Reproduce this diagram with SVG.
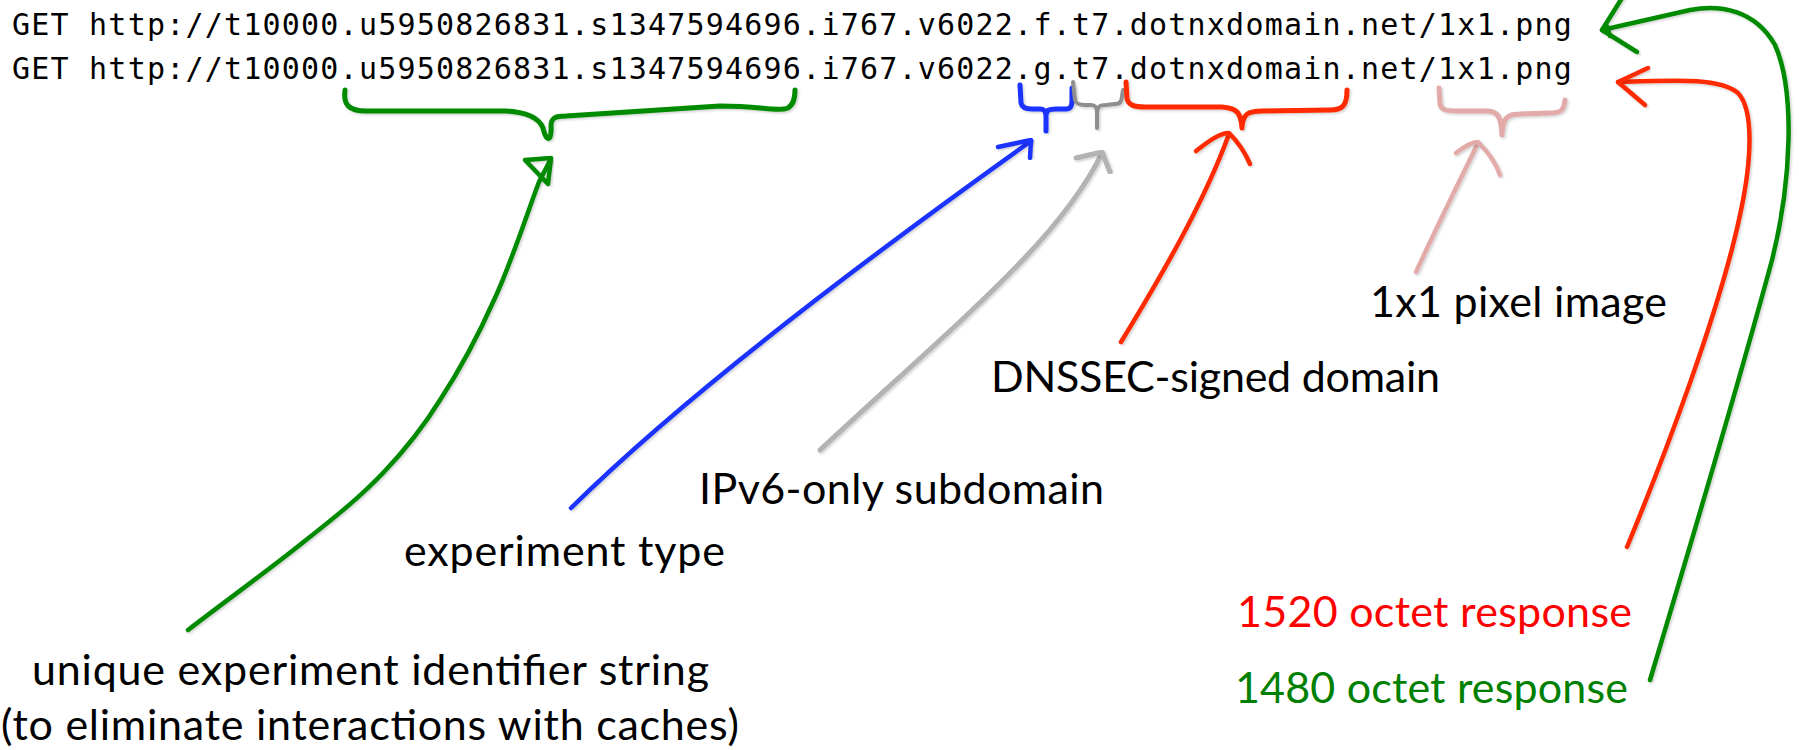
<svg xmlns="http://www.w3.org/2000/svg" width="1799" height="750" viewBox="0 0 1799 750">
<style>
.url{font-family:"DejaVu Sans Mono","Liberation Mono",monospace;font-size:30px;letter-spacing:1.21px;fill:#000}
.lbl{font-family:Lato,"Open Sans",sans-serif;font-size:43px;fill:#000}
.s{fill:none;stroke-linecap:round;stroke-linejoin:round;filter:url(#sh)}
.g{stroke:#008a00}
.b{stroke:#1a33ff}
.r{stroke:#ff2a00}
.gy{stroke:#b3b3b3}
.gyd{stroke:#8e8e8e}
.pk{stroke:#e3aaaa}
</style>
<defs>
<filter id="sh" x="-10%" y="-10%" width="120%" height="120%">
<feDropShadow dx="1.5" dy="1.5" stdDeviation="1.2" flood-color="#000" flood-opacity="0.18"/>
</filter>
</defs>
<g id="url-lines">
<text class="url" x="12" y="35">GET http://t10000.u5950826831.s1347594696.i767.v6022.f.t7.dotnxdomain.net/1x1.png</text>
<text class="url" x="12" y="79">GET http://t10000.u5950826831.s1347594696.i767.v6022.g.t7.dotnxdomain.net/1x1.png</text>
</g>
<g id="braces">
<path class="s g" stroke-width="5" d="M345,90 C343,105 349,111 366,111 L505,111 C528,112 539,118 543,128 C546,142 552,143 551,126 C551,118 555,116 566,116 L720,106 C760,106 778,112 788,108 C794,104 795,98 795,90"/>
<path class="s b" stroke-width="5" d="M1020,85 L1021,103 C1022,108 1026,109 1032,109 L1040,109 C1045,109 1046,112 1046,118 L1046,131 M1046,116 C1046,110 1049,109 1056,109 L1066,109 C1071,109 1072,106 1072,100 L1072,88"/>
<path class="s gyd" stroke-width="4" d="M1073,82 L1075,100 C1076,104 1079,105 1085,105 L1091,105 C1096,105 1097,108 1097,113 L1097,128 M1097,112 C1098,106 1100,105 1106,105 L1115,104 C1120,104 1122,101 1122,96 L1123,90"/>
<path class="s r" stroke-width="5" d="M1126,82 L1127,98 C1128,105 1134,107 1145,107 L1222,107 C1236,108 1241,112 1242,128 M1242,127 C1243,114 1248,111 1262,111 L1330,110 C1343,110 1347,105 1347,90"/>
<path class="s pk" stroke-width="5" d="M1439,88 L1440,104 C1441,110 1447,111 1456,111 L1488,111 C1499,112 1501,118 1502,135 M1502,134 C1503,117 1508,114 1520,114 L1550,113 C1561,113 1564,110 1565,100"/>
</g>
<g id="connectors">
<path class="s g" stroke-width="4.5" d="M188,630 C227,600 274,566 306,540 C339,514 361,496 383,473 C405,450 422,429 440,400 C459,371 478,336 494,300 C511,264 530,205 539,182 C544,172 548,165 550,160"/>
<path class="s g" stroke-width="4.5" d="M551,158 L525,160 L548,184 L551,158"/>
<path class="s b" stroke-width="4.5" d="M571,508 C680,400 850,270 1031,141"/>
<path class="s b" stroke-width="4.5" d="M998,147 L1031,140 L1030,158"/>
<path class="s gy" stroke-width="5" d="M820,450 C960,320 1060,240 1102,153"/>
<path class="s gy" stroke-width="5" d="M1076,158 L1102,152 L1110,172"/>
<path class="s r" stroke-width="4.5" d="M1121,342 C1165,270 1205,200 1229,134"/>
<path class="s r" stroke-width="4.5" d="M1196,151 C1210,140 1220,133 1229,133 C1236,140 1244,150 1250,164"/>
<path class="s pk" stroke-width="4.5" d="M1416,272 C1440,220 1460,180 1478,143"/>
<path class="s pk" stroke-width="4.5" d="M1456,153 C1465,146 1472,142 1478,142 C1486,150 1495,160 1500,175"/>
<path class="s r" stroke-width="4.5" d="M1627,547 C1665,455 1720,310 1740,215 C1752,160 1754,110 1738,93 C1720,78 1680,80 1618,82"/>
<path class="s r" stroke-width="4.5" d="M1648,68 L1618,82 L1645,105"/>
<path class="s g" stroke-width="4.5" d="M1650,680 C1695,530 1745,360 1772,260 C1792,180 1795,90 1775,45 C1755,10 1720,4 1690,10 L1602,30"/>
<path class="s g" stroke-width="4.5" d="M1622,-2 L1602,30 L1637,52 M1606,24 L1610,36"/>
</g>
<g id="labels">
<text class="lbl" x="1370" y="317" textLength="297" lengthAdjust="spacing">1x1 pixel image</text>
<text class="lbl" x="991" y="392" textLength="449" lengthAdjust="spacing">DNSSEC-signed domain</text>
<text class="lbl" x="699" y="504" textLength="405" lengthAdjust="spacing">IPv6-only subdomain</text>
<text class="lbl" x="404" y="566" textLength="321" lengthAdjust="spacing">experiment type</text>
<text class="lbl" x="32" y="685" textLength="677" lengthAdjust="spacing">unique experiment identifier string</text>
<text class="lbl" x="1" y="740" textLength="738" lengthAdjust="spacing">(to eliminate interactions with caches)</text>
<text class="lbl" x="1237" y="627" textLength="395" lengthAdjust="spacing" style="fill:#ff0000">1520 octet response</text>
<text class="lbl" x="1235" y="703" textLength="393" lengthAdjust="spacing" style="fill:#008000">1480 octet response</text>
</g>
</svg>
